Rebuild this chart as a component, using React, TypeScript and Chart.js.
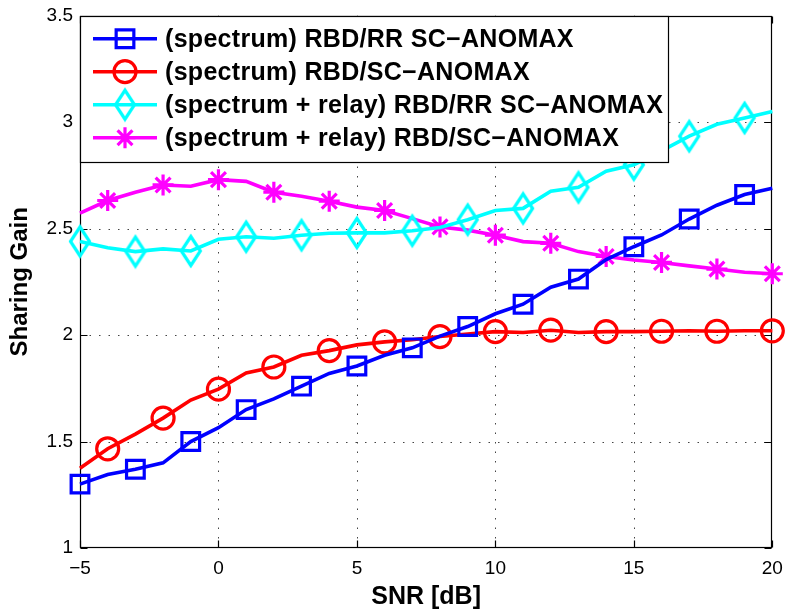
import React, { useEffect, useRef } from 'react';
import { Chart, registerables } from 'chart.js';

Chart.register(...registerables);

const snrDb = [-5, -4, -3, -2, -1, 0, 1, 2, 3, 4, 5, 6, 7, 8, 9, 10, 11, 12, 13, 14, 15, 16, 17, 18, 19, 20];

const spectrumRR = [1.30, 1.345, 1.37, 1.40, 1.50, 1.565, 1.65, 1.70, 1.76, 1.82, 1.855, 1.905, 1.94, 1.995, 2.04, 2.10, 2.145, 2.225, 2.263, 2.355, 2.415, 2.47, 2.545, 2.61, 2.66, 2.69];
const spectrumSC = [1.375, 1.466, 1.535, 1.61, 1.695, 1.746, 1.822, 1.85, 1.905, 1.927, 1.954, 1.968, 1.978, 1.993, 2.005, 2.016, 2.012, 2.023, 2.012, 2.016, 2.016, 2.018, 2.02, 2.018, 2.02, 2.02];
const relayRR = [2.44, 2.41, 2.392, 2.405, 2.395, 2.45, 2.462, 2.455, 2.469, 2.478, 2.48, 2.48, 2.49, 2.505, 2.542, 2.585, 2.595, 2.676, 2.694, 2.77, 2.80, 2.865, 2.934, 2.99, 3.02, 3.05];
const relaySC = [2.573, 2.632, 2.671, 2.705, 2.699, 2.73, 2.722, 2.671, 2.652, 2.629, 2.601, 2.585, 2.547, 2.508, 2.493, 2.469, 2.439, 2.431, 2.392, 2.369, 2.353, 2.341, 2.325, 2.31, 2.295, 2.288];

const seriesLabels = [
  '(spectrum) RBD/RR SC\u2212ANOMAX',
  '(spectrum) RBD/SC\u2212ANOMAX',
  '(spectrum + relay) RBD/RR SC\u2212ANOMAX',
  '(spectrum + relay) RBD/SC\u2212ANOMAX',
];

const xTicks = [-5, 0, 5, 10, 15, 20];
const yTicks = [1, 1.5, 2, 2.5, 3, 3.5];
const xTitle = 'SNR [dB]';
const yTitle = 'Sharing Gain';

const FONT = '"Liberation Sans", Arial, Helvetica, sans-serif';

function makeDiamond(color: string, w: number, h: number, lw: number) {
  const c = document.createElement('canvas');
  c.width = Math.ceil(w + lw * 2);
  c.height = Math.ceil(h + lw * 2);
  const g = c.getContext('2d')!;
  g.strokeStyle = color;
  g.lineWidth = lw;
  g.lineJoin = 'miter';
  const cx = c.width / 2;
  const cy = c.height / 2;
  g.beginPath();
  g.moveTo(cx, cy - h / 2);
  g.lineTo(cx + w / 2, cy);
  g.lineTo(cx, cy + h / 2);
  g.lineTo(cx - w / 2, cy);
  g.closePath();
  g.stroke();
  return c;
}

export default function App() {
  const ref = useRef<HTMLCanvasElement | null>(null);

  useEffect(() => {
    document.body.style.margin = '0';
    const canvas = ref.current!;
    const diamond = makeDiamond('#00ffff', 19, 29, 3.2);

    const styles = [
      { color: '#0000ff', pointStyle: 'rect' as any, radius: 12.5, parity: 0 },
      { color: '#ff0000', pointStyle: 'circle' as any, radius: 11, parity: 1 },
      { color: '#00ffff', pointStyle: diamond as any, radius: 12, parity: 0 },
      { color: '#ff00ff', pointStyle: 'star' as any, radius: 10.5, parity: 1 },
    ];
    const seriesData = [spectrumRR, spectrumSC, relayRR, relaySC];

    const datasets = seriesData.map((arr, k) => {
      const s = styles[k];
      return {
        label: seriesLabels[k],
        data: snrDb.map((x, i) => ({ x, y: arr[i] })),
        borderColor: s.color,
        borderWidth: 3.6,
        backgroundColor: 'transparent',
        pointStyle: s.pointStyle,
        pointBorderColor: s.color,
        pointBackgroundColor: 'transparent',
        pointBorderWidth: 3.2,
        pointRadius: (c: any) => (c.dataIndex % 2 === s.parity ? s.radius : 0),
        pointHoverRadius: (c: any) => (c.dataIndex % 2 === s.parity ? s.radius : 0),
        tension: 0,
        clip: false as any,
      };
    });

    const framePlugin = {
      id: 'frame',
      beforeDatasetsDraw(chart: any) {
        const { ctx, chartArea: a, scales } = chart;
        const xs = scales.x;
        const ys = scales.y;
        ctx.save();
        ctx.strokeStyle = '#444';
        ctx.lineWidth = 1;
        ctx.setLineDash([1.5, 8]);
        xTicks.forEach((v) => {
          const px = Math.round(xs.getPixelForValue(v)) + 0.5;
          if (px <= a.left + 1 || px >= a.right - 1) return;
          ctx.beginPath();
          ctx.moveTo(px, a.bottom);
          ctx.lineTo(px, a.top);
          ctx.stroke();
        });
        yTicks.forEach((v) => {
          const py = Math.round(ys.getPixelForValue(v)) + 0.5;
          if (py <= a.top + 1 || py >= a.bottom - 1) return;
          ctx.beginPath();
          ctx.moveTo(a.left, py);
          ctx.lineTo(a.right, py);
          ctx.stroke();
        });
        ctx.setLineDash([]);
        ctx.strokeStyle = '#000';
        ctx.lineWidth = 1.2;
        const l = Math.round(a.left) + 0.5;
        const r = Math.round(a.right) - 0.5;
        const t = Math.round(a.top) + 0.5;
        const b = Math.round(a.bottom) - 0.5;
        ctx.strokeRect(l, t, r - l, b - t);
        const tl = 7;
        ctx.beginPath();
        xTicks.forEach((v) => {
          const px = Math.round(xs.getPixelForValue(v)) + 0.5;
          ctx.moveTo(px, b);
          ctx.lineTo(px, b - tl);
          ctx.moveTo(px, t);
          ctx.lineTo(px, t + tl);
        });
        yTicks.forEach((v) => {
          const py = Math.round(ys.getPixelForValue(v)) + 0.5;
          ctx.moveTo(l, py);
          ctx.lineTo(l + tl, py);
          ctx.moveTo(r, py);
          ctx.lineTo(r - tl, py);
        });
        ctx.stroke();
        ctx.restore();
      },
      afterDatasetsDraw(chart: any) {
        const { ctx, chartArea: a } = chart;
        ctx.save();
        const bx = Math.round(a.left) + 0.5;
        const by = Math.round(a.top) + 0.5;
        const bw = 588;
        const bh = 146;
        ctx.fillStyle = '#fff';
        ctx.fillRect(bx, by, bw, bh);
        ctx.strokeStyle = '#000';
        ctx.lineWidth = 1.2;
        ctx.strokeRect(bx, by, bw, bh);
        const rowY0 = a.top + 23;
        const rowStep = 33;
        chart.data.datasets.forEach((ds: any, k: number) => {
          const s = styles[k];
          const yy = rowY0 + k * rowStep;
          const x1 = a.left + 13;
          const x2 = a.left + 77;
          const xm = (x1 + x2) / 2;
          ctx.strokeStyle = s.color;
          ctx.lineWidth = 3.6;
          ctx.beginPath();
          ctx.moveTo(x1, yy);
          ctx.lineTo(x2, yy);
          ctx.stroke();
          ctx.lineWidth = 3.2;
          ctx.beginPath();
          if (k === 0) {
            const h = s.radius * Math.SQRT1_2;
            ctx.rect(xm - h, yy - h, 2 * h, 2 * h);
            ctx.stroke();
          } else if (k === 1) {
            ctx.arc(xm, yy, s.radius, 0, Math.PI * 2);
            ctx.stroke();
          } else if (k === 2) {
            ctx.drawImage(diamond, xm - diamond.width / 2, yy - diamond.height / 2);
          } else {
            for (let j = 0; j < 4; j++) {
              const ang = (j * Math.PI) / 4;
              const dx = Math.cos(ang) * s.radius;
              const dy = Math.sin(ang) * s.radius;
              ctx.moveTo(xm - dx, yy - dy);
              ctx.lineTo(xm + dx, yy + dy);
            }
            ctx.stroke();
          }
          ctx.fillStyle = '#000';
          ctx.font = `bold 25px ${FONT}`;
          try {
            (ctx as any).letterSpacing = '0.3px';
          } catch (e) {
            /* ignore */
          }
          ctx.textAlign = 'left';
          ctx.textBaseline = 'middle';
          ctx.fillText(ds.label, a.left + 85, yy + 1);
          try {
            (ctx as any).letterSpacing = '0px';
          } catch (e) {
            /* ignore */
          }
        });
        ctx.restore();
      },
    };

    const chart = new Chart(canvas, {
      type: 'line',
      data: { datasets: datasets as any },
      options: {
        animation: false,
        responsive: false,
        events: [],
        layout: { padding: { top: 9, right: 12, left: 0, bottom: 0 } },
        plugins: {
          legend: { display: false },
          tooltip: { enabled: false },
        },
        scales: {
          x: {
            type: 'linear',
            min: -5,
            max: 20,
            grid: { display: false, drawTicks: false },
            border: { display: false },
            afterBuildTicks: (sc: any) => {
              sc.ticks = xTicks.map((v) => ({ value: v }));
            },
            afterFit: (sc: any) => {
              sc.height = 66;
              sc.paddingLeft = 0;
              sc.paddingRight = 0;
            },
            ticks: {
              padding: 9,
              color: '#000',
              font: { family: FONT, size: 19 },
              maxRotation: 0,
              autoSkip: false,
              callback: (v: any) => String(v).replace('-', '\u2212'),
            },
            title: {
              display: true,
              text: xTitle,
              color: '#000',
              font: { family: FONT, size: 25, weight: 'bold' },
              padding: { top: 0, bottom: 2 },
            },
          },
          y: {
            type: 'linear',
            min: 1,
            max: 3.5,
            grid: { display: false, drawTicks: false },
            border: { display: false },
            afterBuildTicks: (sc: any) => {
              sc.ticks = yTicks.map((v) => ({ value: v }));
            },
            afterFit: (sc: any) => {
              sc.width = 80;
              sc.paddingTop = 0;
              sc.paddingBottom = 0;
            },
            ticks: {
              padding: 7,
              color: '#000',
              font: { family: FONT, size: 19 },
              autoSkip: false,
              callback: (v: any) => String(v),
            },
            title: {
              display: true,
              text: yTitle,
              color: '#000',
              font: { family: FONT, size: 24, weight: 'bold' },
              padding: { top: 6, bottom: 0 },
            },
          },
        },
      },
      plugins: [framePlugin],
    });

    return () => chart.destroy();
  }, []);

  return (
    <div style={{ width: 788, height: 614 }}>
      <canvas ref={ref} width={788} height={614} />
    </div>
  );
}
